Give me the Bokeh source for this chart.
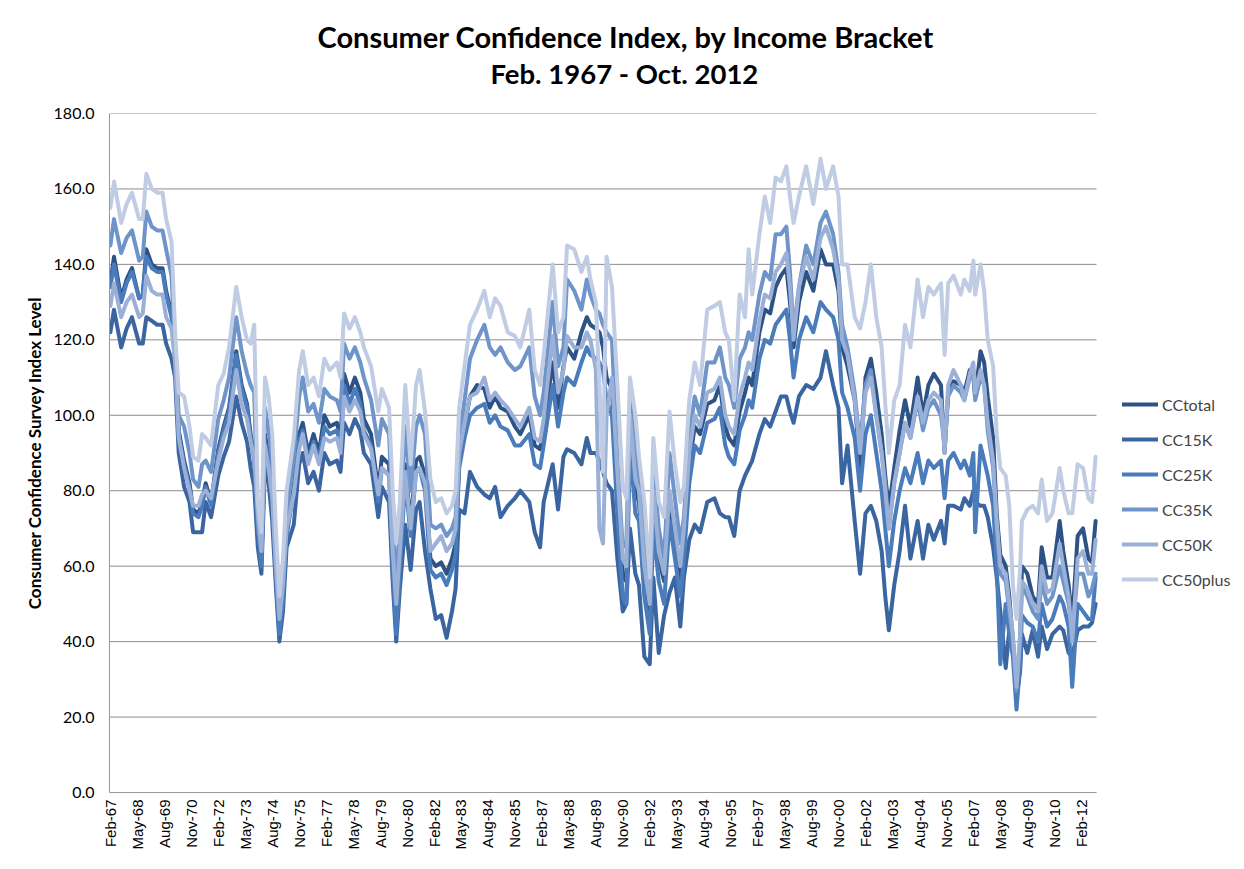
import math
from bokeh.plotting import figure
from bokeh.models import (FixedTicker, Legend, LegendItem, Title, ColumnDataSource)
from bokeh.embed import file_html
from bokeh.resources import INLINE

# ---------------- data ----------------
dates = [
 "Feb-67","Apr-67","Aug-67","Nov-67","Feb-68","Jun-68","Aug-68","Oct-68","Jan-69","Apr-69",
 "Jul-69","Sep-69","Dec-69","Feb-70","Apr-70","Jul-70","Oct-70","Dec-70","Mar-71","May-71",
 "Jul-71","Oct-71","Feb-72","May-72","Aug-72","Dec-72","Mar-73","Jun-73","Aug-73","Oct-73",
 "Dec-73","Feb-74","Apr-74","Jun-74","Aug-74","Oct-74","Dec-74","Feb-75","Apr-75","Aug-75",
 "Nov-75","Jan-76","Apr-76","Jul-76","Oct-76","Jan-77","Apr-77","Aug-77","Oct-77","Dec-77",
 "Mar-78","Jun-78","Sep-78","Nov-78","Mar-79","Jul-79","Sep-79","Jan-80","Mar-80","May-80",
 "Jul-80","Oct-80","Jan-81","Apr-81","Jun-81","Sep-81","Dec-81","Mar-82","Jun-82","Sep-82",
 "Dec-82","Feb-83","Apr-83","Jul-83","Oct-83","Feb-84","Jun-84","Sep-84","Dec-84","Mar-85",
 "Jul-85","Nov-85","Feb-86","Jul-86","Oct-86","Jan-87","Mar-87","Aug-87","Nov-87","Feb-88",
 "Apr-88","Aug-88","Dec-88","Mar-89","May-89","Aug-89","Oct-89","Dec-89","Feb-90","May-90",
 "Aug-90","Nov-90","Jan-91","Mar-91","Jun-91","Aug-91","Nov-91","Feb-92","Apr-92","Jul-92",
 "Oct-92","Jan-93","Apr-93","Jul-93","Sep-93","Dec-93","Mar-94","Jun-94","Oct-94","Feb-95",
 "May-95","Aug-95","Oct-95","Jan-96","Apr-96","Jul-96","Sep-96","Nov-96","Mar-97","Jun-97",
 "Sep-97","Dec-97","Mar-98","Jun-98","Aug-98","Oct-98","Jan-99","May-99","Sep-99","Jan-00",
 "Apr-00","Aug-00","Nov-00","Jan-01","Apr-01","Aug-01","Nov-01","Feb-02","May-02","Aug-02",
 "Nov-02","Jan-03","Mar-03","Jun-03","Sep-03","Dec-03","Mar-04","Jul-04","Oct-04","Jan-05",
 "Apr-05","Aug-05","Oct-05","Dec-05","Mar-06","Jul-06","Sep-06","Dec-06","Feb-07","Mar-07",
 "Jun-07","Aug-07","Oct-07","Jan-08","Mar-08","May-08","Aug-08","Oct-08","Dec-08","Feb-09",
 "Apr-09","May-09","Aug-09","Nov-09","Feb-10","Apr-10","Jul-10","Oct-10","Feb-11","Apr-11",
 "Jul-11","Sep-11","Dec-11","Mar-12","Jun-12","Aug-12","Oct-12",
]

cc_total = [
 135,142,131,136,139,131,132,144,140,139,
 139,133,127,116,96,88,82,75,74,77,
 82,77,91,97,102,117,108,103,95,89,
 72,62,95,89,80,60,43,52,69,81,
 95,98,90,95,90,100,97,98,94,111,
 106,110,106,99,95,80,89,87,63,45,
 62,87,71,88,89,84,62,60,61,58,
 62,66,88,97,105,108,107,102,105,102,
 101,97,95,100,92,91,97,114,102,113,
 118,115,122,126,124,123,122,118,110,107,
 80,57,56,98,80,77,57,47,77,62,
 56,77,67,57,67,87,97,95,103,104,
 108,97,94,92,101,106,110,108,122,128,
 127,134,137,139,130,118,130,138,133,144,
 140,140,133,118,113,104,86,110,115,106,
 95,84,75,86,96,104,97,110,100,108,
 111,108,90,106,109,108,106,112,110,105,
 117,114,105,94,74,63,60,52,40,28,
 38,60,58,52,50,65,57,57,72,64,
 55,45,68,70,62,61,72,
]

cc_15k = [
 122,128,118,123,126,119,119,126,125,124,
 124,119,115,110,90,81,77,69,69,69,
 77,73,84,89,93,105,98,93,86,81,
 65,58,87,82,72,55,40,48,65,71,
 87,90,82,85,80,90,87,88,85,98,
 95,99,96,90,87,73,81,77,56,40,
 54,71,59,75,77,64,54,46,47,41,
 48,54,75,74,85,81,79,78,81,73,
 76,78,80,77,69,65,77,87,75,89,
 91,90,87,94,90,90,88,85,82,80,
 62,48,50,70,58,55,36,34,57,37,
 47,53,57,44,57,67,71,69,77,78,
 74,73,73,68,80,84,86,88,95,99,
 97,101,105,105,101,98,105,108,107,110,
 117,108,102,82,92,72,58,74,76,72,
 64,52,43,55,64,76,62,72,62,71,
 67,72,66,76,76,75,78,76,80,77,
 76,76,73,65,57,48,33,43,39,25,
 32,42,37,43,36,44,38,42,44,43,
 37,36,43,44,44,45,50,
]

cc_25k = [
 134,140,130,135,138,131,132,142,139,138,
 138,132,126,115,95,87,81,74,73,76,
 81,76,90,96,101,116,107,102,94,88,
 70,60,93,88,79,58,42,51,68,80,
 93,96,88,93,88,97,95,96,92,108,
 103,107,103,96,92,77,86,84,60,42,
 59,83,68,85,86,80,59,57,58,55,
 59,63,86,94,100,102,103,98,100,97,
 96,92,92,95,87,86,92,108,97,106,
 110,108,114,118,116,115,114,112,104,100,
 74,52,50,92,74,72,52,42,70,56,
 50,72,62,52,62,82,92,90,98,99,
 102,92,89,87,96,100,104,102,115,120,
 119,124,126,128,120,110,120,126,122,130,
 128,126,120,106,102,94,80,95,100,90,
 80,70,60,72,80,86,82,90,82,88,
 86,88,78,88,90,86,88,84,90,69,
 92,88,84,76,60,34,50,42,36,22,
 34,47,45,44,40,50,44,46,52,50,
 44,28,50,48,46,46,57,
]

cc_35k = [
 145,152,143,147,149,141,142,154,150,149,
 149,144,137,118,100,97,90,83,81,87,
 88,85,99,104,110,126,117,111,108,106,
 72,64,102,96,88,65,49,58,74,89,
 105,110,101,103,98,107,105,104,101,119,
 115,118,114,110,104,92,99,95,72,56,
 70,97,80,97,100,95,71,70,71,68,
 70,73,94,104,115,120,124,118,116,118,
 114,112,113,118,105,100,106,130,113,118,
 136,133,128,136,132,128,127,124,122,120,
 88,65,66,104,90,84,66,52,87,70,
 62,90,78,66,73,94,105,100,114,114,
 118,110,108,102,115,118,122,120,132,138,
 136,148,148,150,138,122,134,145,140,151,
 154,148,138,124,118,106,92,108,112,100,
 90,82,70,82,90,98,94,104,96,102,
 104,100,92,105,108,106,104,110,112,104,
 110,108,96,86,70,58,56,48,40,27,
 40,55,52,48,46,56,50,52,60,56,
 50,42,58,58,52,54,58,
]

cc_50k = [
 129,135,126,130,132,126,127,137,133,132,
 132,126,123,114,94,86,80,76,76,79,
 80,78,88,94,98,112,103,99,93,89,
 74,64,92,86,78,60,46,55,70,79,
 91,95,87,92,87,94,93,94,90,105,
 101,104,101,95,91,79,86,84,64,50,
 64,85,70,85,86,82,64,66,68,64,
 66,70,90,98,105,106,110,104,106,104,
 102,99,97,102,94,93,99,121,106,112,
 121,118,118,122,120,112,70,66,100,110,
 85,62,60,100,83,80,60,50,80,64,
 58,80,70,60,70,90,100,97,106,107,
 110,100,97,95,105,110,114,112,125,132,
 131,138,140,143,134,120,134,142,136,147,
 150,144,136,120,116,104,90,106,110,100,
 90,80,70,82,90,98,94,105,98,104,
 106,104,90,108,112,108,104,111,114,106,
 112,108,98,88,72,60,58,50,42,28,
 42,56,54,50,48,60,53,54,66,60,
 52,40,62,64,58,58,67,
]

cc_50plus = [
 155,162,151,156,159,152,152,164,160,159,
 159,152,146,122,106,105,97,89,88,95,
 94,92,108,111,118,134,126,120,119,124,
 77,69,110,105,95,70,52,62,80,94,
 112,117,108,110,105,115,112,114,110,127,
 123,126,122,118,113,101,107,102,80,66,
 77,108,87,108,112,101,83,77,78,74,
 76,80,102,113,124,128,133,126,131,129,
 122,121,118,128,112,108,116,140,122,126,
 145,144,138,142,136,130,108,85,142,134,
 108,81,78,110,100,89,77,57,94,77,
 73,101,87,77,81,104,114,108,128,129,
 130,122,120,104,132,126,144,132,148,158,
 151,163,162,166,158,151,158,166,156,168,
 160,166,158,140,140,126,123,130,140,126,
 118,103,90,104,108,124,118,136,126,134,
 132,135,116,135,137,132,136,133,141,132,
 140,133,120,113,95,86,84,76,55,46,
 59,72,75,76,74,83,72,74,86,80,
 74,74,87,86,78,77,89,
]

series_names = ["CCtotal", "CC15K", "CC25K", "CC35K", "CC50K", "CC50plus"]
tick_labels = [
 "Feb-67","May-68","Aug-69","Nov-70","Feb-72","May-73","Aug-74","Nov-75","Feb-77","May-78",
 "Aug-79","Nov-80","Feb-82","May-83","Aug-84","Nov-85","Feb-87","May-88","Aug-89","Nov-90",
 "Feb-92","May-93","Aug-94","Nov-95","Feb-97","May-98","Aug-99","Nov-00","Feb-02","May-03",
 "Aug-04","Nov-05","Feb-07","May-08","Aug-09","Nov-10","Feb-12",
]
first_month = "Feb-67"
last_month = "Oct-12"
y_ticks = [0, 20, 40, 60, 80, 100, 120, 140, 160, 180]
title_line1 = "Consumer Confidence Index, by Income Bracket"
title_line2 = "Feb. 1967 - Oct. 2012"
y_title = "Consumer Confidence Survey Index Level"

# ---------------- helpers ----------------
MON = {m: i + 1 for i, m in enumerate(
    ["Jan", "Feb", "Mar", "Apr", "May", "Jun", "Jul", "Aug", "Sep", "Oct", "Nov", "Dec"])}


def ym(s):
    mon, yy = s.split("-")
    yy = int(yy)
    year = 1900 + yy if yy >= 50 else 2000 + yy
    return year * 12 + MON[mon] - 1


def month_index(s):
    return ym(s) - ym(first_month)


xs = [month_index(d) for d in dates]
n_months = month_index(last_month) + 1

colors = ["#2D5286", "#3A65A0", "#4A7CBB", "#6E94CA", "#9BB0D6", "#BFCCE3"]
all_series = [cc_total, cc_15k, cc_25k, cc_35k, cc_50k, cc_50plus]

# ---------------- layout geometry ----------------
W, H = 1236, 860
LEFT, TOP, BOTTOM = 109, 113, 68
PLOT_W = 987                      # width of the data area in px
px_per_month = PLOT_W / n_months
x_start = -0.5
x_end_data = n_months - 0.5
# frame extends to the right edge so that the legend can live inside it
x_end_frame = x_start + (W - LEFT) / px_per_month

p = figure(width=W, height=H, x_range=(x_start, x_end_frame), y_range=(0, 180),
           output_backend="svg", toolbar_location=None,
           min_border_left=LEFT, min_border_right=0, min_border_top=TOP,
           min_border_bottom=BOTTOM)
p.outline_line_color = None
p.background_fill_color = "white"
p.border_fill_color = "white"

# horizontal gridlines limited to the data area
p.segment(x0=[x_start] * len(y_ticks), x1=[x_end_data] * len(y_ticks),
          y0=y_ticks, y1=y_ticks, line_color="#8C8C8C", line_width=1)

renderers = []
for name, vals, col in zip(series_names, all_series, colors):
    src = ColumnDataSource(dict(x=xs, y=vals))
    r = p.line("x", "y", source=src, line_color=col, line_width=4,
               line_join="round", line_cap="round")
    renderers.append((name, r))

# axes
tick_pos = [month_index(t) for t in tick_labels]
p.xaxis.ticker = FixedTicker(ticks=tick_pos)
p.xaxis.major_label_overrides = {t: lab for t, lab in zip(tick_pos, tick_labels)}
p.xaxis.major_label_orientation = math.pi / 2
p.xaxis.bounds = (x_start, x_end_data)
p.yaxis.ticker = FixedTicker(ticks=y_ticks)
p.yaxis.major_label_overrides = {v: f"{v:.1f}" for v in y_ticks}

for ax in (p.xaxis, p.yaxis):
    ax.axis_line_color = "#9A9A9A"
    ax.axis_line_width = 1
    ax.major_tick_line_color = None
    ax.minor_tick_line_color = None
    ax.major_tick_in = 0
    ax.major_tick_out = 0
    ax.major_label_text_color = "#000000"

p.xaxis.major_label_text_font = "Liberation Sans"
p.xaxis.major_label_text_font_size = "15px"
p.yaxis.major_label_text_font = "Lato"
p.yaxis.major_label_text_font_size = "16px"
p.xaxis.major_label_standoff = 7
p.yaxis.major_label_standoff = 15
p.yaxis.axis_label = y_title
p.yaxis.axis_label_text_font = "Lato"
p.yaxis.axis_label_text_font_style = "bold"
p.yaxis.axis_label_text_font_size = "17px"
p.yaxis.axis_label_text_color = "#000000"
p.yaxis.axis_label_standoff = 6

p.xgrid.grid_line_color = None
p.ygrid.grid_line_color = None

# titles (the one added last sits closest to the plot)
p.title.text = title_line1
p.title.align = "left"
p.title.offset = 208
p.title.text_font = "Lato"
p.title.text_font_style = "bold"
p.title.text_font_size = "29px"
p.title.text_color = "#000000"
try:
    p.title.standoff = -46
except Exception:
    p.title.standoff = 0
t2 = Title(text=title_line2, align="left", offset=381,
           text_font="Lato", text_font_style="bold", text_font_size="27.5px",
           text_color="#000000", standoff=48)
p.add_layout(t2, "above")

# legend (inside the widened frame, right of the data area)
items = [LegendItem(label=name, renderers=[r]) for name, r in renderers]
legend = Legend(items=items, location=(1013, 198), orientation="vertical",
                glyph_width=36, glyph_height=30, label_height=30, spacing=5,
                label_standoff=4, padding=0, margin=0,
                label_text_font="Lato", label_text_font_size="16px",
                border_line_color=None, background_fill_alpha=0)
p.add_layout(legend, "center")

open("out.html", "w").write(file_html(p, INLINE))
